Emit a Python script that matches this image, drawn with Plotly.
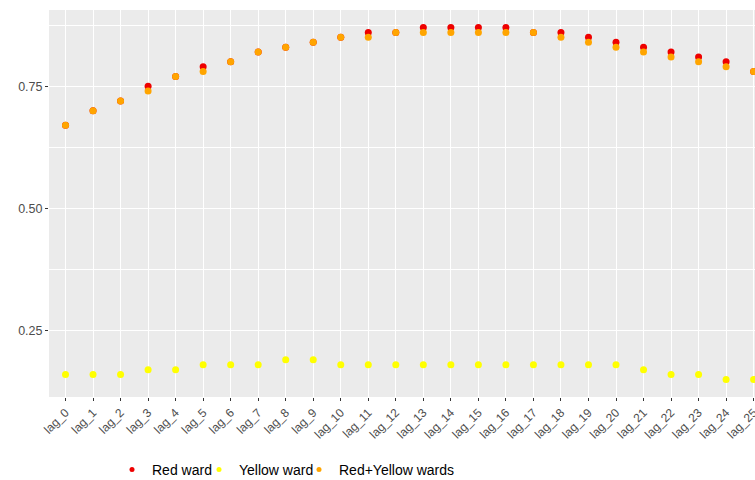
import plotly.graph_objects as go

categories = [f"lag_{i}" for i in range(26)]

red_ward = [0.67, 0.70, 0.72, 0.75, 0.77, 0.79, 0.80, 0.82, 0.83, 0.84, 0.85, 0.86, 0.86,
            0.87, 0.87, 0.87, 0.87, 0.86, 0.86, 0.85, 0.84, 0.83, 0.82, 0.81, 0.80, 0.78]
yellow_ward = [0.16, 0.16, 0.16, 0.17, 0.17, 0.18, 0.18, 0.18, 0.19, 0.19, 0.18, 0.18, 0.18,
               0.18, 0.18, 0.18, 0.18, 0.18, 0.18, 0.18, 0.18, 0.17, 0.16, 0.16, 0.15, 0.15]
red_yellow = [0.67, 0.70, 0.72, 0.74, 0.77, 0.78, 0.80, 0.82, 0.83, 0.84, 0.85, 0.85, 0.86,
              0.86, 0.86, 0.86, 0.86, 0.86, 0.85, 0.84, 0.83, 0.82, 0.81, 0.80, 0.79, 0.78]

y_ticks = [0.25, 0.50, 0.75]
y_tick_labels = ["0.25", "0.50", "0.75"]
y_minor = [0.375, 0.625, 0.875]

series = [
    ("Red ward", red_ward, "#EE0000", "legend"),
    ("Yellow ward", yellow_ward, "#FFFF00", "legend2"),
    ("Red+Yellow wards", red_yellow, "#FFA500", "legend3"),
]

W, H = 755, 480
legend_text_x = [152, 239, 339]   # text start of each legend entry (px)
legend_y = 470

fig = go.Figure()
for name, vals, color, lg in series:
    fig.add_trace(go.Scatter(
        x=categories, y=vals, mode="markers", name=name, showlegend=False,
        marker=dict(color=color, size=7, line=dict(width=0)),
    ))
for name, vals, color, lg in series:
    fig.add_trace(go.Scatter(
        x=[None], y=[None], mode="markers", name=name, showlegend=True, legend=lg,
        marker=dict(color=color, size=5, line=dict(width=0)),
    ))

def legend_box(tx):
    return dict(
        orientation="h", xref="container", yref="container",
        x=(tx - 40) / W, xanchor="left", y=1 - legend_y / H, yanchor="middle",
        font=dict(size=14, color="black"), itemsizing="trace",
        bgcolor="rgba(0,0,0,0)", borderwidth=0,
    )

fig.update_layout(
    width=W, height=H,
    margin=dict(l=49, r=0, t=10, b=83, autoexpand=False),
    paper_bgcolor="white",
    plot_bgcolor="#EBEBEB",
    font=dict(family="Liberation Sans, Arial, sans-serif", color="#4D4D4D"),
    showlegend=True,
    legend=legend_box(legend_text_x[0]),
    legend2=legend_box(legend_text_x[1]),
    legend3=legend_box(legend_text_x[2]),
)

fig.update_xaxes(
    type="category", categoryorder="array", categoryarray=categories,
    range=[-0.6, 25.05], automargin=False,
    showgrid=True, gridcolor="white", gridwidth=1.1,
    zeroline=False, showline=False,
    ticks="outside", ticklen=3, tickwidth=1, tickcolor="#333333",
    tickangle=-45, tickfont=dict(size=12, color="#4D4D4D"),
)
fig.update_yaxes(
    range=[0.114, 0.906], automargin=False,
    tickvals=y_ticks, ticktext=y_tick_labels,
    showgrid=True, gridcolor="white", gridwidth=1.1,
    minor=dict(tickvals=y_minor, showgrid=True, gridcolor="white", gridwidth=0.5, ticks=""),
    zeroline=False, showline=False,
    ticks="outside", ticklen=3, tickwidth=1, tickcolor="#333333",
    tickfont=dict(size=12.5, color="#4D4D4D"),
)

fig.write_html("out.html", config={"displayModeBar": False},
               post_script="document.body.style.margin='0';document.documentElement.style.margin='0';")
